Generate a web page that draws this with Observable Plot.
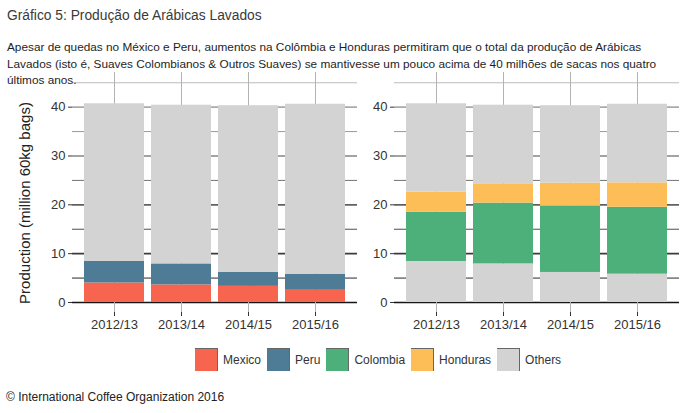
<!DOCTYPE html>
<html>
<head>
<meta charset="utf-8">
<script src="https://cdn.jsdelivr.net/npm/d3@7"></script>
<script src="https://cdn.jsdelivr.net/npm/@observablehq/plot@0.6"></script>
<style>
  body { margin: 0; background: #fff; font-family: "Liberation Sans", Arial, sans-serif; }
  #wrap { position: relative; width: 693px; height: 413px; overflow: hidden; background: #fff; }
  #chart { position: absolute; left: 0; top: 0; }
  #title { position: absolute; left: 7px; top: 8px; font-size: 13.8px; line-height: 16px; color: #3a3a3a; white-space: nowrap; }
  #subtitle { position: absolute; left: 7px; top: 39px; font-size: 11.8px; line-height: 16.5px; color: #1e1e1e; white-space: nowrap; }
  #legend { position: absolute; left: 195px; top: 348px; display: flex; align-items: center; font-size: 12px; color: #333; }
  #legend .item { display: flex; align-items: center; margin-right: 6px; }
  #legend .sw { width: 22px; height: 22px; border-top: 1px solid #666; border-right: 1px solid #666; margin-right: 5px; }
  #caption { position: absolute; left: 6px; top: 390px; font-size: 12px; line-height: 14px; color: #222; white-space: nowrap; }
</style>
</head>
<body>
<div id="wrap">
  <div id="chart"></div>
  <div id="title">Gráfico 5: Produção de Arábicas Lavados</div>
  <div id="subtitle">Apesar de quedas no México e Peru, aumentos na Colômbia e Honduras permitiram que o total da produção de Arábicas<br>Lavados (isto é, Suaves Colombianos &amp; Outros Suaves) se mantivesse um pouco acima de 40 milhões de sacas nos quatro<br>últimos anos.</div>
  <div id="legend"></div>
  <div id="caption">© International Coffee Organization 2016</div>
</div>
<script>
// Crop years
const seasons = ["2012/13", "2013/14", "2014/15", "2015/16"];
// Production by origin, million 60kg bags
const mexico   = [4.0, 3.6, 3.3, 2.5];
const peru     = [4.4, 4.3, 2.85, 3.3];
const colombia = [10.1, 12.45, 13.55, 13.7];
const honduras = [4.1, 3.95, 4.75, 5.0];
// Total washed Arabica production
const totals   = [40.7, 40.4, 40.3, 40.6];

const keys   = ["Mexico", "Peru", "Colombia", "Honduras", "Others"];
const colors = ["#F8654F", "#4E7B95", "#4DB07B", "#FDBE58", "#D3D3D3"];
const yTicks = [0, 10, 20, 30, 40];
const gridLevels = [0, 5, 10, 15, 20, 25, 30, 35, 40, 45];

// Left panel: Mexico and Peru against the rest.
// Right panel: Colombia and Honduras, with Mexico+Peru and the remainder in grey.
const rows = [];
seasons.forEach((s, i) => {
  const mp = mexico[i] + peru[i];
  rows.push({panel: "A", season: s, key: "Mexico", value: mexico[i]});
  rows.push({panel: "A", season: s, key: "Peru", value: peru[i]});
  rows.push({panel: "A", season: s, key: "Others", value: totals[i] - mp});
  rows.push({panel: "B", season: s, key: "Others", value: mp});
  rows.push({panel: "B", season: s, key: "Colombia", value: colombia[i]});
  rows.push({panel: "B", season: s, key: "Honduras", value: honduras[i]});
  rows.push({panel: "B", season: s, key: "Others", value: totals[i] - mp - colombia[i] - honduras[i]});
});

const gridColor = d3.interpolateRgb("#161616", "#bdbdbd");
const gridMarks = gridLevels.map(v => Plot.ruleY([v], {
  stroke: gridColor(v / 45),
  strokeWidth: v % 10 === 0 ? 1.6 : 1
}));

const chart = Plot.plot({
  width: 693,
  height: 340,
  marginTop: 72,
  marginBottom: 28,
  marginLeft: 71,
  marginRight: 14,
  style: {fontFamily: '"Liberation Sans", Arial, sans-serif', fontSize: "13px", color: "#333", background: "transparent"},
  fx: {domain: ["A", "B"], paddingInner: 0.116, paddingOuter: 0, axis: null, label: null},
  x: {domain: seasons, paddingInner: 0.1, paddingOuter: 0.15, label: null},
  y: {domain: [-2.05, 47.1], label: null},
  color: {domain: keys, range: colors},
  marks: [
    ...gridMarks,
    Plot.ruleX(seasons, {x: d => d, stroke: "#b3b3b3", strokeWidth: 1}),
    Plot.barY(rows, Plot.stackY({fx: "panel", x: "season", y: "value", fill: "key"})),
    Plot.axisY({ticks: yTicks, tickSize: 4, tickPadding: 3, label: null, facetAnchor: null, fill: "#333", stroke: "#333"}),
    Plot.axisX({tickSize: 4, tickPadding: 3, label: null, fill: "#333", stroke: "#333"})
  ]
});

// Y axis title
d3.select(chart).append("text")
  .attr("transform", "translate(30,203) rotate(-90)")
  .attr("text-anchor", "middle")
  .attr("font-size", 15)
  .attr("fill", "#222")
  .text("Production (million 60kg bags)");

document.getElementById("chart").appendChild(chart);

// Legend
const legend = d3.select("#legend");
keys.forEach((k, i) => {
  const item = legend.append("div").attr("class", "item");
  item.append("span").attr("class", "sw").style("background", colors[i]);
  item.append("span").text(k);
});
</script>
</body>
</html>
